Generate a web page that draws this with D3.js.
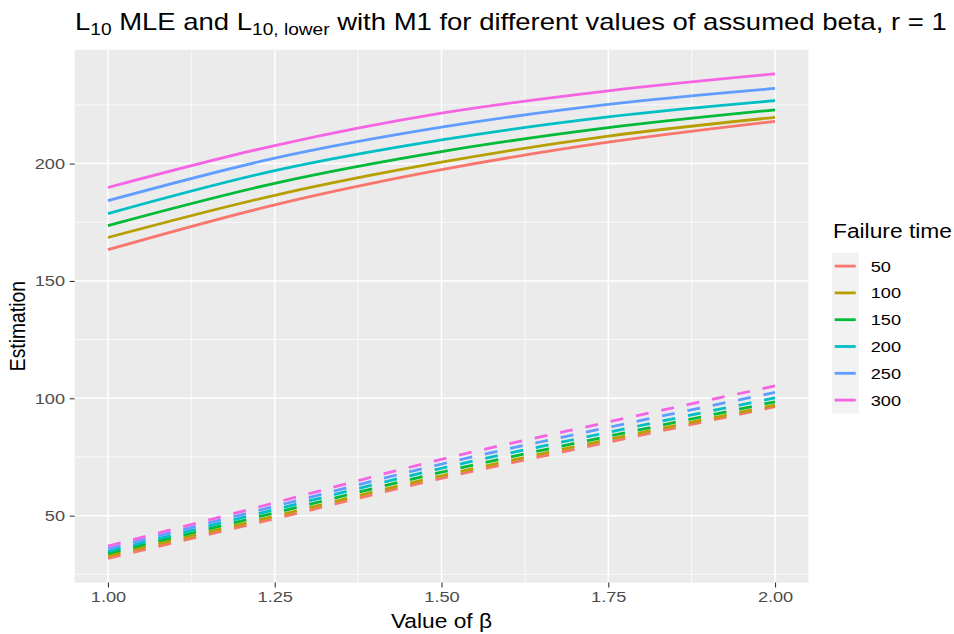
<!DOCTYPE html>
<html>
<head>
<meta charset="utf-8">
<script src="https://cdn.jsdelivr.net/npm/d3@7/dist/d3.min.js"></script>
<style>
  html, body { margin: 0; padding: 0; background: #ffffff; }
  svg { display: block; }
  text { font-family: "Liberation Sans", Arial, Helvetica, sans-serif; }
</style>
</head>
<body>
<svg id="chart" width="954" height="634"></svg>
<script>
// ---- Data ----
const betaValues = [1.00, 1.25, 1.50, 1.75, 2.00];
const failureTimes = ["50", "100", "150", "200", "250", "300"];
const seriesColors = ["#F8766D", "#B79F00", "#00BA38", "#00BFC4", "#619CFF", "#F564E3"];

// L10 MLE (solid lines)
const mle50  = [163.3, 182.4, 197.4, 209.1, 218.0];
const mle100 = [168.5, 186.5, 200.6, 211.7, 219.7];
const mle150 = [173.6, 191.6, 205.1, 215.3, 222.9];
const mle200 = [178.7, 197.0, 210.1, 219.9, 226.8];
const mle250 = [184.2, 202.3, 215.5, 225.2, 232.0];
const mle300 = [189.8, 207.7, 221.5, 231.0, 238.2];

// L10, lower (dashed lines)
const lower50  = [31.8, 48.7, 65.9, 81.3, 96.4];
const lower100 = [32.9, 49.8, 67.0, 82.4, 97.1];
const lower150 = [33.9, 51.2, 68.5, 83.8, 98.5];
const lower200 = [34.8, 52.6, 70.2, 85.5, 100.2];
const lower250 = [35.9, 54.0, 72.0, 87.6, 102.5];
const lower300 = [37.0, 55.5, 74.0, 89.9, 105.3];

const xTicks = [1.00, 1.25, 1.50, 1.75, 2.00];
const yTicks = [50, 100, 150, 200];

const mleSeries = [mle50, mle100, mle150, mle200, mle250, mle300];
const lowerSeries = [lower50, lower100, lower150, lower200, lower250, lower300];

// ---- Layout ----
const svg = d3.select("#chart");
const panel = { left: 74.6, right: 808.4, top: 49.7, bottom: 582.6 };
const SX = 1.18; // horizontal stretch of the text in the reference

const allVals = mleSeries.flat().concat(lowerSeries.flat());
const yMin = d3.min(allVals), yMax = d3.max(allVals);
const yPad = (yMax - yMin) * 0.05;
const xPad = (d3.max(betaValues) - d3.min(betaValues)) * 0.05;

const x = d3.scaleLinear()
  .domain([d3.min(betaValues) - xPad, d3.max(betaValues) + xPad])
  .range([panel.left, panel.right]);
const y = d3.scaleLinear()
  .domain([yMin - yPad, yMax + yPad])
  .range([panel.bottom, panel.top]);

// panel background
svg.append("rect")
  .attr("x", panel.left).attr("y", panel.top)
  .attr("width", panel.right - panel.left)
  .attr("height", panel.bottom - panel.top)
  .attr("fill", "#EBEBEB");

// grid
const xMinor = [0.875, 1.125, 1.375, 1.625, 1.875, 2.125].filter(v => v >= x.domain()[0] && v <= x.domain()[1]);
const yMinor = [25, 75, 125, 175, 225].filter(v => v >= y.domain()[0] && v <= y.domain()[1]);
const grid = svg.append("g");
grid.selectAll(".xminor").data(xMinor).join("line")
  .attr("x1", d => x(d)).attr("x2", d => x(d))
  .attr("y1", panel.top).attr("y2", panel.bottom)
  .attr("stroke", "#ffffff").attr("stroke-width", 0.75);
grid.selectAll(".yminor").data(yMinor).join("line")
  .attr("y1", d => y(d)).attr("y2", d => y(d))
  .attr("x1", panel.left).attr("x2", panel.right)
  .attr("stroke", "#ffffff").attr("stroke-width", 0.75);
grid.selectAll(".xmajor").data(xTicks).join("line")
  .attr("x1", d => x(d)).attr("x2", d => x(d))
  .attr("y1", panel.top).attr("y2", panel.bottom)
  .attr("stroke", "#ffffff").attr("stroke-width", 1.5);
grid.selectAll(".ymajor").data(yTicks).join("line")
  .attr("y1", d => y(d)).attr("y2", d => y(d))
  .attr("x1", panel.left).attr("x2", panel.right)
  .attr("stroke", "#ffffff").attr("stroke-width", 1.5);

// lines
const line = d3.line()
  .x((d, i) => x(betaValues[i]))
  .y(d => y(d))
  .curve(d3.curveMonotoneX);

const lines = svg.append("g");
mleSeries.forEach((s, k) => {
  lines.append("path")
    .attr("d", line(s))
    .attr("fill", "none")
    .attr("stroke", seriesColors[k])
    .attr("stroke-width", 2.8)
    .attr("stroke-linejoin", "round")
    .attr("stroke-linecap", "butt");
});
lowerSeries.forEach((s, k) => {
  lines.append("path")
    .attr("d", line(s))
    .attr("fill", "none")
    .attr("stroke", seriesColors[k])
    .attr("stroke-width", 2.8)
    .attr("stroke-dasharray", "12.95,12.95")
    .attr("stroke-linejoin", "round")
    .attr("stroke-linecap", "butt");
});

// axes
const tickColor = "#333333";
const labelColor = "#4D4D4D";
const xAxis = d3.axisBottom(x).tickValues(xTicks).tickFormat(d3.format(".2f"))
  .tickSize(4.8).tickPadding(4);
const gx = svg.append("g").attr("transform", `translate(0,${panel.bottom})`).call(xAxis);
gx.select(".domain").remove();
gx.selectAll(".tick line").attr("stroke", tickColor).attr("stroke-width", 1.07);
gx.selectAll(".tick text").attr("fill", labelColor).attr("font-size", "15.4px")
  .attr("font-family", "'Liberation Sans', Arial, sans-serif")
  .attr("transform", `scale(${SX},1)`);

const yAxis = d3.axisLeft(y).tickValues(yTicks).tickFormat(d3.format("d"))
  .tickSize(4.8).tickPadding(3.3);
const gy = svg.append("g").attr("transform", `translate(${panel.left},0)`).call(yAxis);
gy.select(".domain").remove();
gy.selectAll(".tick line").attr("stroke", tickColor).attr("stroke-width", 1.07);
gy.selectAll(".tick text").attr("fill", labelColor).attr("font-size", "15.4px")
  .attr("font-family", "'Liberation Sans', Arial, sans-serif")
  .attr("transform", `scale(${SX},1)`);

// axis titles
svg.append("text")
  .attr("transform", `translate(${(panel.left + panel.right) / 2},628) scale(${SX},1)`)
  .attr("text-anchor", "middle").attr("font-size", "19.3px").attr("fill", "#000")
  .text("Value of β");
svg.append("text")
  .attr("transform", `translate(25,${(panel.top + panel.bottom) / 2 + 10}) scale(${SX},1) rotate(-90)`)
  .attr("text-anchor", "middle").attr("font-size", "19.3px").attr("fill", "#000")
  .text("Estimation");

// title
const title = svg.append("text")
  .attr("transform", `translate(75,30) scale(1.195,1)`)
  .attr("font-size", "23px").attr("fill", "#000");
title.append("tspan").text("L");
title.append("tspan").attr("font-size", "16px").attr("dy", 5).text("10");
title.append("tspan").attr("dy", -5).text(" MLE and L");
title.append("tspan").attr("font-size", "16px").attr("dy", 5).text("10, lower");
title.append("tspan").attr("dy", -5).text(" with M1 for different values of assumed beta, r = 1");

// legend
const legend = svg.append("g");
legend.append("text")
  .attr("transform", `translate(833,237.5) scale(${SX},1)`)
  .attr("font-size", "19.3px").attr("fill", "#000")
  .text("Failure time");
const keyH = 26.8, keyTop = 252.7, keyLeft = 832, keyW = 27;
legend.selectAll(".keybg").data(failureTimes).join("rect")
  .attr("x", keyLeft).attr("y", (d, i) => keyTop + i * keyH)
  .attr("width", keyW).attr("height", keyH)
  .attr("fill", "#F2F2F2");
legend.selectAll(".keyline").data(failureTimes).join("line")
  .attr("x1", keyLeft + 2.7).attr("x2", keyLeft + keyW - 3.3)
  .attr("y1", (d, i) => keyTop + i * keyH + keyH / 2)
  .attr("y2", (d, i) => keyTop + i * keyH + keyH / 2)
  .attr("stroke", (d, i) => seriesColors[i])
  .attr("stroke-width", 2.8);
legend.selectAll(".keylabel").data(failureTimes).join("text")
  .attr("transform", (d, i) => `translate(870.7,${keyTop + i * keyH + keyH / 2 + 5.5}) scale(${SX},1)`)
  .attr("font-size", "15.4px").attr("fill", "#000")
  .text(d => d);
</script>
</body>
</html>
